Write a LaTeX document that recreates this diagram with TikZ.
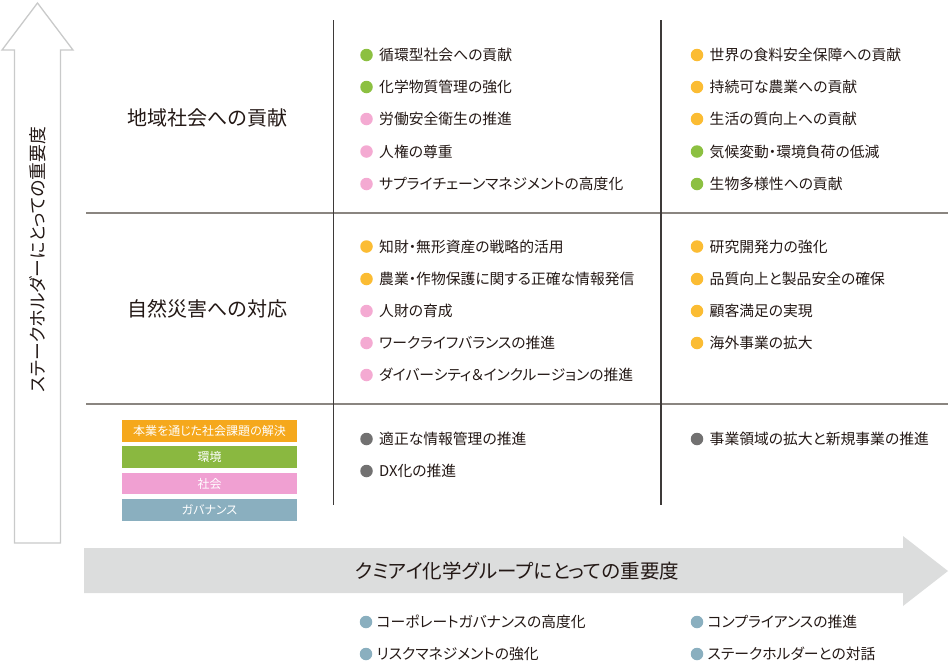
\documentclass[tikz,border=0pt]{standalone}
\usepackage{fontspec}
\setmainfont[RawFeature=+palt]{Noto Sans CJK JP}
\definecolor{txt}{HTML}{231815}
\definecolor{gridgray}{HTML}{8A8580}
\definecolor{griddark}{HTML}{3E3A39}
\definecolor{arrowfill}{HTML}{DCDDDD}
\definecolor{arrowline}{HTML}{C9CACA}
\definecolor{cOrange}{HTML}{FBBC33}
\definecolor{cGreen}{HTML}{8CC041}
\definecolor{cPink}{HTML}{F4AAD2}
\definecolor{cBlue}{HTML}{8AAFBF}
\definecolor{cGray}{HTML}{727171}
\definecolor{lOrange}{HTML}{F5A81C}
\definecolor{lGreen}{HTML}{8AB840}
\definecolor{lPink}{HTML}{F0A0D2}
\definecolor{lBlue}{HTML}{8AAFBF}
\tikzset{
  itemtext/.style={anchor=west, inner sep=0pt, text=txt, font=\fontsize{14.8}{16}\selectfont},
  bulletdot/.style={circle, inner sep=0pt, minimum size=12.5pt, draw=none},
  legbox/.style={minimum width=175pt, minimum height=21.5pt, inner sep=0pt, text=white, font=\fontsize{12}{14}\selectfont},
  celllabel/.style={inner sep=0pt, text=txt, font=\fontsize{20}{22}\selectfont},
  axislabel/.style={inner sep=0pt, text=txt, font=\fontsize{17.8}{20}\selectfont},
  haxislabel/.style={inner sep=0pt, text=txt, font=\fontsize{19.5}{22}\selectfont},
  gridh/.style={draw=gridgray, line width=1.6pt},
  gridv/.style={draw=griddark, line width=1.1pt},
}
\newcommand\myitem[6]{%
  \node[bulletdot, fill=#4] (#1d) at (#2,#3) {};
  \node[itemtext] (#1) at ($(#2,#3)+(#6,0)$) {#5};
}
\usetikzlibrary{calc}
\begin{document}
\begin{tikzpicture}[x=1pt,y=-1pt]
\useasboundingbox (0,0) rectangle (950,670);
% vertical arrow
\draw[draw=arrowline, fill=white, line width=1.3pt, line join=miter]
  (14.5,543) -- (14.5,50) -- (2,50) -- (37.5,3) -- (73,50) -- (60.5,50) -- (60.5,543) -- cycle;
\node[axislabel, rotate=90] (vlab) at (37.5,260) {ステークホルダーにとっての重要度};
% horizontal arrow
\fill[arrowfill] (84,548) -- (903,548) -- (903,536) -- (948,571) -- (903,606) -- (903,593) -- (84,593) -- cycle;
\node[haxislabel] (hlab) at (517,571) {クミアイ化学グループにとっての重要度};
% grid
\coordinate (h1l) at (86,213); \coordinate (h1r) at (948,213);
\coordinate (h2l) at (86,404); \coordinate (h2r) at (948,404);
\coordinate (v1t) at (333.5,20); \coordinate (v1b) at (333.5,505);
\coordinate (v2t) at (661,20); \coordinate (v2b) at (661,505);
\draw[gridh] (h1l) -- (h1r);
\draw[gridh] (h2l) -- (h2r);
\draw[gridv] (v1t) -- (v1b);
\draw[gridv] (v2t) -- (v2b);
% cell labels
\node[celllabel] (lab1) at (207.5,117.5) {地域社会への貢献};
\node[celllabel] (lab2) at (207.5,309) {自然災害への対応};
% legend
\node[legbox, fill=lOrange] (leg1) at (209.5,431) {本業を通じた社会課題の解決};
\node[legbox, fill=lGreen] (leg2) at (209.5,457) {環境};
\node[legbox, fill=lPink] (leg3) at (209.5,483.5) {社会};
\node[legbox, fill=lBlue] (leg4) at (209.5,510) {ガバナンス};
% column 2, top
\myitem{a1}{366.5}{55}{cGreen}{循環型社会への貢献}{12.5}
\myitem{a2}{366.5}{87}{cGreen}{化学物質管理の強化}{12.5}
\myitem{a3}{366.5}{119}{cPink}{労働安全衛生の推進}{12.5}
\myitem{a4}{366.5}{151.5}{cPink}{人権の尊重}{12.5}
\myitem{a5}{366.5}{184}{cPink}{サプライチェーンマネジメントの高度化}{12.5}
% column 3, top
\myitem{b1}{697}{55}{cOrange}{世界の食料安全保障への貢献}{12.5}
\myitem{b2}{697}{87}{cOrange}{持続可な農業への貢献}{12.5}
\myitem{b3}{697}{119}{cOrange}{生活の質向上への貢献}{12.5}
\myitem{b4}{697}{151.5}{cGreen}{気候変動・環境負荷の低減}{12.5}
\myitem{b5}{697}{184}{cGreen}{生物多様性への貢献}{12.5}
% column 2, middle
\myitem{c1}{366.5}{246.5}{cOrange}{知財・無形資産の戦略的活用}{12.5}
\myitem{c2}{366.5}{279}{cOrange}{農業・作物保護に関する正確な情報発信}{12.5}
\myitem{c3}{366.5}{311}{cPink}{人財の育成}{12.5}
\myitem{c4}{366.5}{343}{cPink}{ワークライフバランスの推進}{12.5}
\myitem{c5}{366.5}{375}{cPink}{ダイバーシティ＆インクルージョンの推進}{12.5}
% column 3, middle
\myitem{d1}{697}{246.5}{cOrange}{研究開発力の強化}{12.5}
\myitem{d2}{697}{279}{cOrange}{品質向上と製品安全の確保}{12.5}
\myitem{d3}{697}{311}{cOrange}{顧客満足の実現}{12.5}
\myitem{d4}{697}{343}{cOrange}{海外事業の拡大}{12.5}
% bottom row
\myitem{e1}{366.5}{439}{cGray}{適正な情報管理の推進}{12.5}
\myitem{e2}{366.5}{471}{cGray}{DX化の推進}{12.5}
\myitem{f1}{697}{439}{cGray}{事業領域の拡大と新規事業の推進}{12.5}
% governance, below the axis
\myitem{g1}{366}{622}{cBlue}{コーポレートガバナンスの高度化}{10.5}
\myitem{g2}{366}{654}{cBlue}{リスクマネジメントの強化}{10.5}
\myitem{g3}{697}{622}{cBlue}{コンプライアンスの推進}{10.5}
\myitem{g4}{697}{654}{cBlue}{ステークホルダーとの対話}{10.5}
\end{tikzpicture}
\end{document}
